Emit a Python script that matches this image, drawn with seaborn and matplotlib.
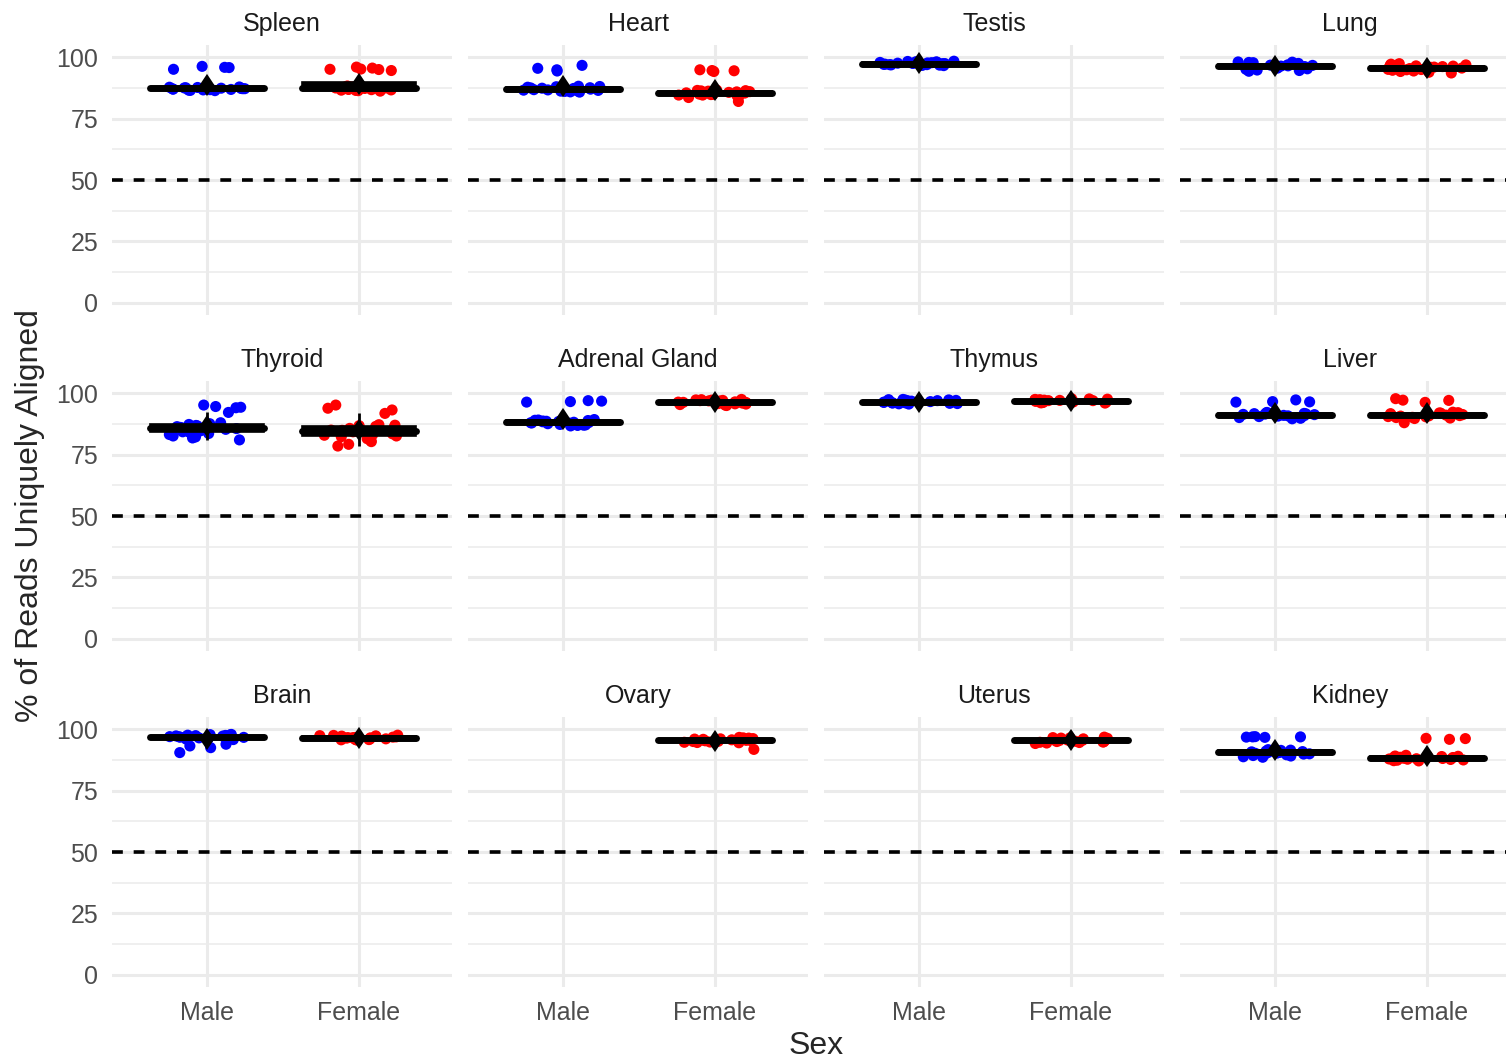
import numpy as np
import pandas as pd
import matplotlib
matplotlib.use("Agg")
import matplotlib.pyplot as plt
import seaborn as sns

# ---------------------------------------------------------------------------
# data (% of reads uniquely aligned, per sample)
# ---------------------------------------------------------------------------

TISSUES = ["Spleen", "Heart", "Testis", "Lung",
           "Thyroid", "Adrenal Gland", "Thymus", "Liver",
           "Brain", "Ovary", "Uterus", "Kidney"]
SEXES = ["Male", "Female"]
SEX_COLORS = {"Male": "#0000FF", "Female": "#FF0000"}

spleen_male = [95.1, 95.8, 96.3, 95.9, 87.2, 86.8, 87.6, 87.0, 86.6, 88.0, 87.4, 86.9,
               87.7, 87.1, 86.5, 87.9, 87.5, 86.7, 87.3, 87.8, 86.4, 87.2, 87.6, 87.0]
spleen_female = [94.6, 95.1, 95.2, 95.0, 95.6, 96.0, 87.5, 86.4, 87.1, 88.0, 86.9, 87.5,
                 86.2, 87.8, 87.3, 86.6, 87.6, 88.3, 86.8, 87.2, 86.5, 87.4, 87.9, 86.7]
heart_male = [95.5, 96.7, 94.9, 94.4, 87.3, 86.1, 88.0, 86.6, 87.5, 85.8, 86.9, 88.2,
              87.1, 86.3, 87.8, 86.7, 85.9, 87.4, 88.1, 86.5, 87.0, 86.2, 87.6, 86.8]
heart_female = [94.9, 94.6, 94.5, 94.2, 85.5, 84.6, 86.3, 85.0, 83.6, 86.2, 84.8, 85.9,
                82.0, 86.6, 85.3, 84.4, 86.4, 85.7, 84.0, 86.0, 84.6, 85.4, 86.5, 84.9]
testis_male = [97.4, 98.1, 96.9, 97.8, 97.2, 98.3, 96.6, 97.6, 97.0, 98.0, 97.3, 96.8,
               97.9, 97.5, 98.2, 97.1, 96.7, 97.7, 97.4, 98.4, 97.0, 97.6]
testis_female = []
lung_male = [96.9, 95.1, 97.8, 96.4, 94.3, 97.2, 96.0, 98.1, 95.6, 97.5, 96.7, 94.8,
             97.9, 96.2, 95.3, 97.0, 96.8, 98.0, 95.8, 97.4, 96.5, 94.6]
lung_female = [95.9, 94.2, 96.8, 95.4, 93.6, 97.2, 95.1, 96.5, 94.7, 97.4, 95.7, 93.9,
               96.2, 95.0, 97.0, 94.4, 96.0, 95.6, 96.9, 94.9, 95.3, 96.4]
thyroid_male = [94.3, 95.2, 92.2, 94.1, 94.6, 85.6, 83.2, 87.3, 84.1, 86.4, 81.0, 85.0,
                88.0, 82.6, 86.9, 84.7, 85.9, 83.6, 87.6, 81.8, 85.3, 86.1, 84.3, 82.2, 86.7]
thyroid_female = [95.2, 93.2, 91.8, 93.9, 79.2, 78.5, 84.6, 82.3, 86.8, 83.5, 85.7, 80.6,
                  84.0, 87.2, 82.9, 85.3, 86.1, 81.5, 84.9, 83.1, 86.5, 80.3, 85.0, 82.6,
                  87.0, 84.3]
adrenal_male = [96.6, 96.4, 96.8, 97.0, 88.2, 87.0, 89.1, 87.6, 88.7, 86.7, 88.0, 89.3,
                87.3, 88.5, 87.9, 86.9, 88.9, 87.5, 88.4, 87.1, 89.0, 88.1, 87.8, 88.6]
adrenal_female = [96.6, 95.2, 97.3, 96.0, 96.9, 95.6, 97.5, 96.3, 95.0, 97.0, 96.5, 95.8,
                  97.2, 96.1, 95.4, 96.8, 97.4, 96.4, 95.7, 96.7, 96.2, 97.1]
thymus_male = [96.7, 95.8, 97.4, 96.3, 97.0, 95.6, 96.9, 97.3, 96.1, 95.9, 96.6, 97.2,
               96.4, 95.7, 97.1, 96.8, 96.2, 97.5, 96.5, 96.0]
thymus_female = [97.0, 96.2, 97.6, 96.6, 97.3, 96.0, 97.1, 97.7, 96.4, 96.8, 97.4, 96.3,
                 97.2, 96.7, 97.5, 96.5, 96.9, 97.8, 96.1, 97.0]
liver_male = [97.3, 96.5, 96.6, 96.4, 91.3, 90.1, 92.0, 90.7, 91.6, 89.8, 91.0, 92.2,
              90.4, 91.8, 90.9, 89.6, 91.4, 90.5, 92.1, 91.1, 90.2, 91.7, 90.8, 91.5]
liver_female = [97.1, 97.2, 96.3, 97.8, 88.0, 91.4, 90.2, 92.1, 90.8, 91.7, 89.9, 91.0,
                92.3, 90.5, 91.9, 90.7, 89.7, 91.3, 90.4, 92.0, 91.1, 90.1, 91.6, 90.9]
brain_male = [90.5, 92.5, 93.2, 93.9, 97.0, 96.1, 97.7, 96.6, 97.3, 95.8, 97.1, 97.9,
              96.4, 96.8, 97.5, 96.2, 97.2, 96.7, 97.6, 96.0, 96.9, 97.8, 96.5, 97.4]
brain_female = [96.7, 95.7, 97.4, 96.2, 97.0, 95.9, 96.8, 97.5, 96.0, 96.5, 97.2, 95.6,
                96.9, 96.4, 97.3, 96.1, 96.6, 97.6, 95.8, 96.3, 97.1, 96.6]
ovary_male = []
ovary_female = [95.7, 94.6, 96.4, 95.1, 96.0, 94.8, 95.5, 96.7, 94.9, 95.9, 95.3, 96.2,
                94.7, 95.8, 96.5, 95.0, 95.6, 96.1, 94.5, 95.4, 91.8]
uterus_male = []
uterus_female = [95.7, 94.4, 96.5, 95.1, 96.1, 94.7, 95.5, 96.8, 94.9, 95.9, 95.3, 96.3,
                 94.2, 95.8, 96.6, 95.0, 95.6, 96.0, 94.6, 95.4, 96.4, 94.8]
kidney_male = [96.9, 96.8, 97.0, 96.7, 96.9, 90.6, 89.3, 91.4, 90.0, 90.9, 88.8, 90.4,
               91.7, 89.6, 91.1, 90.2, 88.6, 90.8, 89.9, 91.5, 90.5, 89.1, 91.2, 90.3, 89.7]
kidney_female = [96.3, 96.2, 95.9, 88.5, 87.4, 89.2, 88.0, 88.8, 87.1, 88.3, 89.4, 87.7,
                 88.9, 88.1, 87.2, 88.6, 87.9, 89.1, 88.4, 87.5, 89.0, 88.2, 87.8]

VALUES = {
    "Spleen": (spleen_male, spleen_female),
    "Heart": (heart_male, heart_female),
    "Testis": (testis_male, testis_female),
    "Lung": (lung_male, lung_female),
    "Thyroid": (thyroid_male, thyroid_female),
    "Adrenal Gland": (adrenal_male, adrenal_female),
    "Thymus": (thymus_male, thymus_female),
    "Liver": (liver_male, liver_female),
    "Brain": (brain_male, brain_female),
    "Ovary": (ovary_male, ovary_female),
    "Uterus": (uterus_male, uterus_female),
    "Kidney": (kidney_male, kidney_female),
}

rows = []
for tissue in TISSUES:
    for sex, vals in zip(SEXES, VALUES[tissue]):
        rows += [{"Tissue": tissue, "Sex": sex, "pct": v} for v in vals]
df = pd.DataFrame(rows)

# ---------------------------------------------------------------------------
# figure
# ---------------------------------------------------------------------------

sns.set_style("white")
plt.rcParams["font.family"] = ["Liberation Sans", "DejaVu Sans"]
np.random.seed(7)

W, H = 1506, 1060
fig = plt.figure(figsize=(W / 200, H / 200), dpi=200)

GRID = "#EBEBEB"
for i, tissue in enumerate(TISSUES):
    r, c = divmod(i, 4)
    left = 112 + 356 * c
    top = 45 + 336 * r
    ax = fig.add_axes([left / W, 1 - (top + 270) / H, 340 / W, 270 / H])
    sub = df[df["Tissue"] == tissue]

    sns.stripplot(data=sub, x="Sex", y="pct", hue="Sex", order=SEXES,
                  hue_order=SEXES, palette=SEX_COLORS, jitter=0.26, size=4,
                  linewidth=0, legend=False, ax=ax, zorder=2)
    sns.boxplot(data=sub, x="Sex", y="pct", order=SEXES, width=0.75,
                color="black", linecolor="black", linewidth=0.6,
                showfliers=False, showcaps=False,
                medianprops={"linewidth": 2.5, "solid_capstyle": "round"},
                whiskerprops={"linewidth": 1.0, "zorder": 3},
                boxprops={"zorder": 3}, ax=ax)
    sns.pointplot(data=sub, x="Sex", y="pct", order=SEXES, estimator="mean",
                  errorbar=None, color="black", markers="d", linestyle="none",
                  markersize=3.2, ax=ax)

    ax.axhline(50, color="black", lw=1.3, ls=(0, (3, 3)), zorder=1.5)

    ax.set_xlim(-0.625, 1.612)
    ax.set_ylim(-5, 105)
    ax.set_yticks([0, 25, 50, 75, 100])
    ax.set_yticks([12.5, 37.5, 62.5, 87.5], minor=True)
    ax.set_xticks([0, 1])
    ax.set_axisbelow(True)
    ax.grid(True, which="major", color=GRID, lw=1.1)
    ax.grid(True, which="minor", axis="y", color=GRID, lw=0.55)
    for s in ax.spines.values():
        s.set_visible(False)
    ax.tick_params(which="both", length=0, labelsize=9, labelcolor="#4D4D4D", pad=5)
    ax.set_xticklabels(SEXES if r == 2 else [])
    if c != 0:
        ax.set_yticklabels([])
    ax.set_xlabel("")
    ax.set_ylabel("")
    ax.set_title(tissue, fontsize=9, color="#1A1A1A", pad=5)

fig.text(816 / W, 1 - 1046 / H, "Sex", ha="center", va="center", fontsize=11.5)
fig.text(30 / W, 1 - 516 / H, "% of Reads Uniquely Aligned", ha="center",
         va="center", rotation=90, fontsize=11.5)

fig.savefig("out.png", dpi=200, facecolor="white")
